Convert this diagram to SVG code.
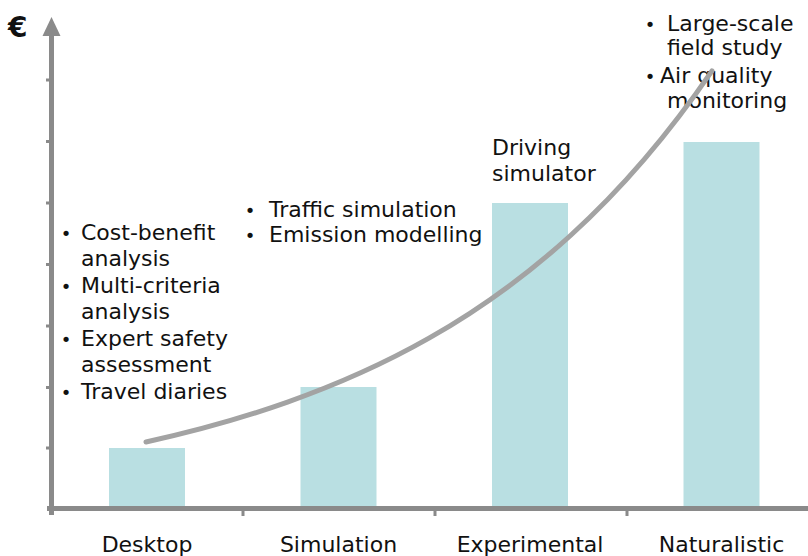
<svg xmlns="http://www.w3.org/2000/svg" width="808" height="556" viewBox="0 0 808 556">
<style>
  text { font-family: "DejaVu Sans", Verdana, sans-serif; font-size: 22px; fill: #111; }
  .bul { font-size: 18px; text-anchor: middle; }
  .cat { text-anchor: middle; }
  .bar { fill: #b9dfe2; }
  .axis { stroke: #8a8a8a; stroke-width: 5; fill: none; }
  .tick { fill: #8a8a8a; }
  .curve { stroke: #a3a3a3; stroke-width: 5; fill: none; stroke-linecap: round; }
</style>
<rect width="808" height="556" fill="#ffffff"/>

<g id="bars">
  <g id="bar-desktop"><rect class="bar" x="109" y="448" width="76" height="61"/><text class="cat" x="147" y="552">Desktop</text></g>
  <g id="bar-simulation"><rect class="bar" x="300.5" y="387" width="76" height="122"/><text class="cat" x="338.5" y="552">Simulation</text></g>
  <g id="bar-experimental"><rect class="bar" x="492" y="203" width="76" height="306"/><text class="cat" x="530" y="552">Experimental</text></g>
  <g id="bar-naturalistic"><rect class="bar" x="683.5" y="142" width="76" height="367"/><text class="cat" x="721.5" y="552">Naturalistic</text></g>
</g>

<g id="axes">
  <line class="axis" x1="51.5" y1="34" x2="51.5" y2="515"/>
  <line class="axis" x1="47" y1="508.5" x2="808" y2="508.5"/>
  <polygon class="tick" points="51.5,17 42.5,36 60.5,36"/>
  <g class="tick">
    <rect x="46" y="78.5" width="5" height="3"/>
    <rect x="46" y="140" width="5" height="3"/>
    <rect x="46" y="201.5" width="5" height="3"/>
    <rect x="46" y="263" width="5" height="3"/>
    <rect x="46" y="324.5" width="5" height="3"/>
    <rect x="46" y="386" width="5" height="3"/>
    <rect x="46" y="446.5" width="5" height="3"/>
    <rect x="241.5" y="508" width="3" height="8"/>
    <rect x="433.5" y="508" width="3" height="8"/>
    <rect x="625.5" y="508" width="3" height="8"/>
  </g>
  <text x="8" y="37" style="font-size:28px;font-weight:bold;">€</text>
</g>

<g id="desktop-methods">
  <text class="bul" x="66" y="240">•</text>
  <text x="81" y="240">Cost-benefit</text>
  <text x="81" y="266">analysis</text>
  <text class="bul" x="66" y="293">•</text>
  <text x="81" y="293">Multi-criteria</text>
  <text x="81" y="319">analysis</text>
  <text class="bul" x="66" y="346">•</text>
  <text x="81" y="346">Expert safety</text>
  <text x="81" y="372">assessment</text>
  <text class="bul" x="66" y="399">•</text>
  <text x="81" y="399">Travel diaries</text>
</g>

<g id="simulation-methods">
  <text class="bul" x="250" y="217">•</text>
  <text x="269" y="217">Traffic simulation</text>
  <text class="bul" x="250" y="242">•</text>
  <text x="269" y="242">Emission modelling</text>
</g>

<g id="experimental-methods">
  <text x="492" y="155">Driving</text>
  <text x="492" y="181">simulator</text>
</g>

<g id="naturalistic-methods">
  <text class="bul" x="650" y="31">•</text>
  <text x="667" y="31">Large-scale</text>
  <text x="667" y="55">field study</text>
  <text class="bul" x="650" y="83">•</text>
  <text x="660" y="83">Air quality</text>
  <text x="667" y="108">monitoring</text>
</g>

<g id="connectors">
  <path class="curve" d="M146,442 C193.2,431.6 240.3,418.8 287.5,402.1 C334.7,385.4 381.8,365 429,338.2 C476.2,311.5 523.3,278.4 570.5,235.5 C617.7,192.6 664.8,139.8 712,70.9"/>
</g>
</svg>
